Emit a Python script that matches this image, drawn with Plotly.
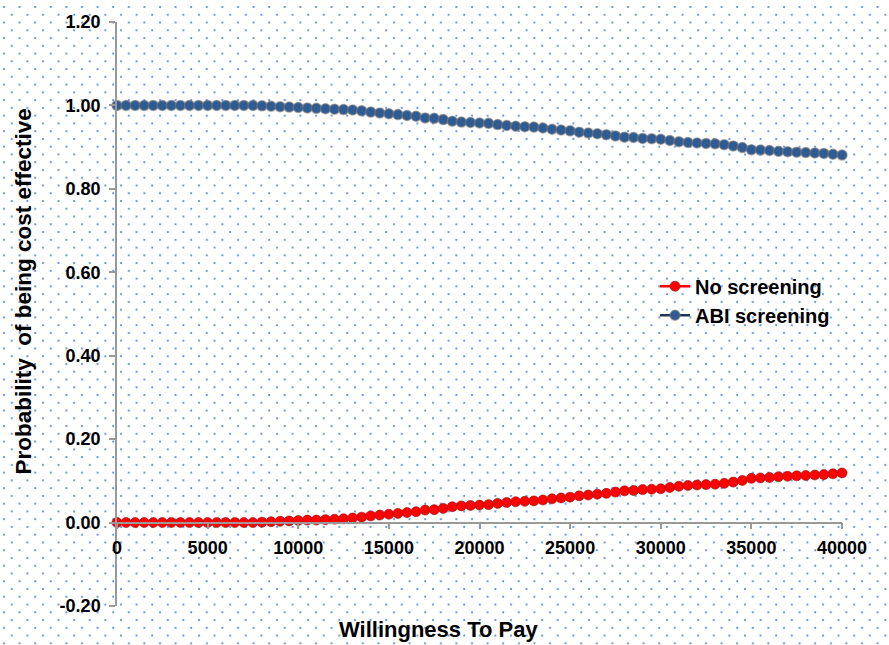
import base64
import plotly.graph_objects as go

# ---------------- data ----------------
wtp = list(range(0, 40001, 500))

no_screening = [
    0.000, 0.000, 0.000, 0.000, 0.000, 0.000, 0.000, 0.000, 0.000, 0.000,   # 0 - 4500
    0.000, 0.000, 0.000, 0.000, 0.000, 0.000, 0.001, 0.002, 0.003, 0.004,   # 5000 - 9500
    0.005, 0.006, 0.006, 0.007, 0.008, 0.009, 0.011, 0.013, 0.016, 0.018,   # 10000 - 14500
    0.020, 0.022, 0.024, 0.026, 0.030, 0.031, 0.034, 0.038, 0.040, 0.041,   # 15000 - 19500
    0.042, 0.043, 0.046, 0.048, 0.050, 0.051, 0.052, 0.054, 0.057, 0.059,   # 20000 - 24500
    0.061, 0.064, 0.066, 0.068, 0.070, 0.073, 0.076, 0.077, 0.079, 0.080,   # 25000 - 29500
    0.081, 0.084, 0.087, 0.089, 0.090, 0.091, 0.092, 0.094, 0.097, 0.101,   # 30000 - 34500
    0.106, 0.107, 0.108, 0.110, 0.111, 0.112, 0.113, 0.114, 0.115, 0.117,   # 35000 - 39500
    0.119,                                                                  # 40000
]

abi_screening = [
    1.000, 1.000, 1.000, 1.000, 1.000, 1.000, 1.000, 1.000, 1.000, 1.000,   # 0 - 4500
    1.000, 1.000, 1.000, 1.000, 1.000, 1.000, 0.999, 0.998, 0.997, 0.996,   # 5000 - 9500
    0.995, 0.994, 0.993, 0.992, 0.991, 0.990, 0.989, 0.987, 0.984, 0.982,   # 10000 - 14500
    0.980, 0.978, 0.976, 0.974, 0.970, 0.969, 0.966, 0.962, 0.960, 0.959,   # 15000 - 19500
    0.958, 0.957, 0.954, 0.952, 0.950, 0.949, 0.948, 0.946, 0.943, 0.941,   # 20000 - 24500
    0.939, 0.936, 0.934, 0.932, 0.930, 0.927, 0.924, 0.923, 0.921, 0.920,   # 25000 - 29500
    0.919, 0.916, 0.913, 0.911, 0.910, 0.909, 0.908, 0.906, 0.903, 0.899,   # 30000 - 34500
    0.894, 0.893, 0.892, 0.890, 0.889, 0.888, 0.887, 0.886, 0.885, 0.883,   # 35000 - 39500
    0.881,                                                                  # 40000
]

x_ticks = [0, 5000, 10000, 15000, 20000, 25000, 30000, 35000, 40000]
y_ticks = [-0.2, 0.0, 0.2, 0.4, 0.6, 0.8, 1.0, 1.2]
y_tick_text = ["-0.20", "0.00", "0.20", "0.40", "0.60", "0.80", "1.00", "1.20"]

# ---------------- layout geometry ----------------
W, H = 889, 645
ML, MR, MT, MB = 117, 47, 19, 39
PW, PH = W - ML - MR, H - MT - MB

FONT = "Liberation Sans, Arial, sans-serif"

# dotted background pattern
step = 15.6
svg = (
    f'<svg xmlns="http://www.w3.org/2000/svg" width="{W}" height="{H}">'
    f'<defs><pattern id="p" x="0" y="0" width="{step}" height="{step}" patternUnits="userSpaceOnUse">'
    f'<circle cx="4" cy="4" r="1.1" fill="#4a7cc0" fill-opacity="0.9"/>'
    f'<circle cx="{4 + step / 2}" cy="{4 + step / 2}" r="1.1" fill="#4a7cc0" fill-opacity="0.9"/>'
    f'</pattern></defs>'
    f'<rect width="{W}" height="{H}" fill="white"/>'
    f'<rect width="{W}" height="{H}" fill="url(#p)"/></svg>'
)
svg_uri = "data:image/svg+xml;base64," + base64.b64encode(svg.encode()).decode()

fig = go.Figure()

fig.add_trace(go.Scatter(
    x=wtp, y=no_screening, name="No screening", mode="lines+markers",
    line=dict(color="#ff0000", width=2.5),
    marker=dict(color="#ff0000", size=10, line=dict(color="rgba(140,20,20,0.6)", width=1)),
    cliponaxis=False,
))
fig.add_trace(go.Scatter(
    x=wtp, y=abi_screening, name="ABI screening", mode="lines+markers",
    line=dict(color="#1f3557", width=2.5),
    marker=dict(color="#2f5b93", size=10, line=dict(color="rgba(120,120,120,0.6)", width=1.5)),
    cliponaxis=False,
))

fig.update_layout(
    width=W, height=H,
    margin=dict(l=ML, r=MR, t=MT, b=MB, pad=0),
    paper_bgcolor="white",
    plot_bgcolor="rgba(0,0,0,0)",
    font=dict(family=FONT, size=16, color="black"),
    showlegend=True,
    legend=dict(
        x=(655 - ML) / PW, y=(MT + PH - 265) / PH, xanchor="left", yanchor="top",
        bgcolor="rgba(0,0,0,0)", borderwidth=0,
        font=dict(family=FONT, size=20, color="black", weight="bold"),
        itemwidth=30,
    ),
    images=[dict(
        source=svg_uri, xref="paper", yref="paper",
        x=-ML / PW, y=1 + MT / PH, sizex=W / PW, sizey=H / PH,
        xanchor="left", yanchor="top", sizing="stretch", layer="below",
    )],
    xaxis=dict(
        range=[0, 40000], tickvals=x_ticks, ticktext=[str(v) for v in x_ticks],
        showgrid=False, zeroline=False,
        showline=True, linecolor="#999999", linewidth=1.5,
        ticks="outside", ticklen=6, tickcolor="#999999", tickwidth=1.5,
        tickfont=dict(family=FONT, size=18, color="black", weight="bold"),
        anchor="free", position=0.2 / 1.4,
        ticklabelstandoff=3,
    ),
    yaxis=dict(
        range=[-0.2, 1.2], tickvals=y_ticks, ticktext=y_tick_text,
        showgrid=False, zeroline=False,
        showline=True, linecolor="#999999", linewidth=1.5,
        ticks="outside", ticklen=6, tickcolor="#999999", tickwidth=1.5,
        tickfont=dict(family=FONT, size=18, color="black", weight="bold"),
        ticklabelstandoff=5,
    ),
    annotations=[
        dict(text="Willingness To Pay", xref="paper", yref="paper",
             x=(438.5 - ML) / PW, y=(MT + PH - 630) / PH, xanchor="center", yanchor="middle",
             showarrow=False, font=dict(family=FONT, size=22, color="black", weight="bold")),
        dict(text="Probability  of being cost effective", xref="paper", yref="paper",
             x=(24 - ML) / PW, y=(MT + PH - 290) / PH, xanchor="center", yanchor="middle",
             textangle=-90, showarrow=False,
             font=dict(family=FONT, size=22.5, color="black", weight="bold")),
    ],
)

fig.write_html("out.html", config={"displayModeBar": False},
               post_script="document.body.style.margin='0';")
